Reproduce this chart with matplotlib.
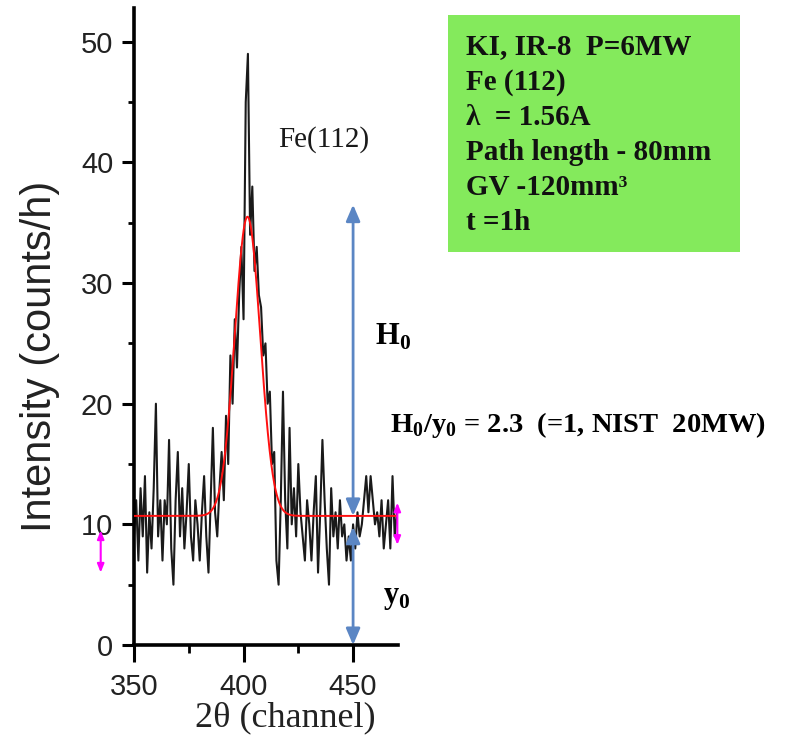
import numpy as np
import matplotlib
matplotlib.use("Agg")
import matplotlib.pyplot as plt
from matplotlib.patches import Rectangle
from matplotlib.ticker import MultipleLocator

# Measured diffraction pattern, one value per channel (350 ... 470)
channels = np.arange(350, 471)
counts = [
    9, 12, 7, 13, 9, 14, 6, 11, 8, 13,
    20, 9, 12, 7, 12, 10, 17, 8, 5, 12,
    16, 9, 13, 8, 11, 15, 9, 7, 12, 10,
    7, 11, 14, 9, 6, 12, 18, 11, 9, 13,
    16, 12, 19, 15, 24, 20, 27, 23, 29, 33,
    27, 45, 49, 34, 38, 31, 33, 29, 28, 24,
    25, 20, 21, 15, 16, 7, 5, 12, 21, 12,
    8, 18, 10, 13, 9, 15, 11, 9, 7, 12,
    10, 7, 11, 14, 6, 11, 17, 12, 8, 5,
    13, 9, 11, 8, 12, 9, 10, 7, 9, 7,
    10, 8, 11, 9, 10, 12, 14, 11, 14, 12,
    10, 11, 9, 12, 8, 10, 12, 8, 14, 9, 11,
]

# Gaussian peak on a flat background (fit parameters)
fit_background = 10.7
fit_amplitude = 24.8
fit_center = 401.8
fit_sigma = 5.8

x_ticks = [350, 400, 450]
y_ticks = [0, 10, 20, 30, 40, 50]

# Peak height / background markers
marker_channel = 450
h0_top = 36.5
y0_top = 9.8
left_bar = (334.8, 9.5, 6.0)
right_bar = (470.2, 11.8, 8.3)

info_lines = [
    "KI, IR-8  P=6MW",
    "Fe (112)",
    "\u03bb  = 1.56A",
    "Path length - 80mm",
    "GV -120mm\u00b3",
    "t =1h",
]

W, H = 797, 744
plt.rcParams["mathtext.fontset"] = "custom"
plt.rcParams["mathtext.rm"] = "Liberation Serif"
plt.rcParams["mathtext.bf"] = "Liberation Serif:bold"

fig = plt.figure(figsize=(W / 100, H / 100), dpi=100)


def fx(px):
    return px / W


def fy(py):
    return 1 - py / H


ax = fig.add_axes([fx(134), fy(645), (398 - 134) / W, (645 - 8) / H])
ax.set_xlim(350, 470.5)
ax.set_ylim(0, 52.8)

ax.plot(channels, counts, color="#1a1a1a", lw=1.5, zorder=2)
xf = np.linspace(channels[0], channels[-1], 600)
fit = fit_background + fit_amplitude * np.exp(-0.5 * ((xf - fit_center) / fit_sigma) ** 2)
ax.plot(xf, fit, color="#ff1010", lw=1.4, zorder=3)

for side in ("top", "right"):
    ax.spines[side].set_visible(False)
for side in ("left", "bottom"):
    ax.spines[side].set_linewidth(2.6)

ax.set_xticks(x_ticks)
ax.set_yticks(y_ticks)
ax.xaxis.set_minor_locator(MultipleLocator(25))
ax.yaxis.set_minor_locator(MultipleLocator(5))
ax.tick_params(axis="y", which="major", direction="out", length=9, width=2.2,
               pad=6, labelsize=21, labelcolor="#222222")
ax.tick_params(axis="x", which="major", direction="out", length=12, width=2.2,
               pad=8, labelsize=21, labelcolor="#222222")
ax.tick_params(axis="y", which="minor", direction="out", length=4, width=2.0)
ax.tick_params(axis="x", which="minor", direction="out", length=6, width=2.0)
for lab in ax.get_xticklabels() + ax.get_yticklabels():
    lab.set_fontfamily("Liberation Sans")

# Double arrows marking H0 and y0
blue = "#5b86c4"
arrow_kw = dict(arrowstyle="<|-|>,head_length=0.7,head_width=0.3", color=blue,
                lw=2.0, shrinkA=0, shrinkB=0, mutation_scale=14)
ax.annotate("", xy=(marker_channel, h0_top), xytext=(marker_channel, fit_background),
            arrowprops=arrow_kw, annotation_clip=False)
ax.annotate("", xy=(marker_channel, y0_top), xytext=(marker_channel, 0),
            arrowprops=arrow_kw, annotation_clip=False)

mag_kw = dict(arrowstyle="<|-|>,head_length=0.5,head_width=0.2", color="#ff00ff",
              lw=1.5, shrinkA=0, shrinkB=0, mutation_scale=10)
for xb, ytop, ybot in (left_bar, right_bar):
    ax.annotate("", xy=(xb, ytop), xytext=(xb, ybot), arrowprops=mag_kw,
                annotation_clip=False)

# Axis titles
fig.text(fx(40), fy(356), "Intensity (counts/h)", rotation=90, ha="center",
         va="center", fontsize=30, family="Liberation Sans", color="#222222")
fig.text(fx(285), fy(718), "2\u03b8 (channel)", ha="center", va="center",
         fontsize=26, family="Liberation Serif", color="#222222")

# Annotations
fig.text(fx(324), fy(140), "Fe(112)", ha="center", va="center", fontsize=21,
         family="Liberation Serif", color="#1a1a1a")
fig.text(fx(375), fy(337), r"$\mathbf{H}_\mathbf{0}$", ha="left", va="center",
         fontsize=22)
fig.text(fx(383), fy(598), r"$\mathbf{y}_\mathbf{0}$", ha="left", va="center",
         fontsize=22)
fig.text(fx(390), fy(425),
         r"H$_\mathbf{0}$/y$_\mathbf{0}$ = 2.3  (=1, NIST  20MW)",
         ha="left", va="center", fontsize=20.5, fontweight="bold",
         family="Liberation Serif")

# Experiment details box
fig.patches.append(Rectangle((fx(448), fy(252)), (740 - 448) / W, (252 - 15) / H,
                             transform=fig.transFigure, facecolor="#84ea5c",
                             edgecolor="none", zorder=0))
for i, line in enumerate(info_lines):
    fig.text(fx(466), fy(47 + i * 35.2), line, ha="left", va="center",
             fontsize=21, fontweight="bold", family="Liberation Serif",
             color="#111111")

fig.savefig("out.png", dpi=100, facecolor="white")
